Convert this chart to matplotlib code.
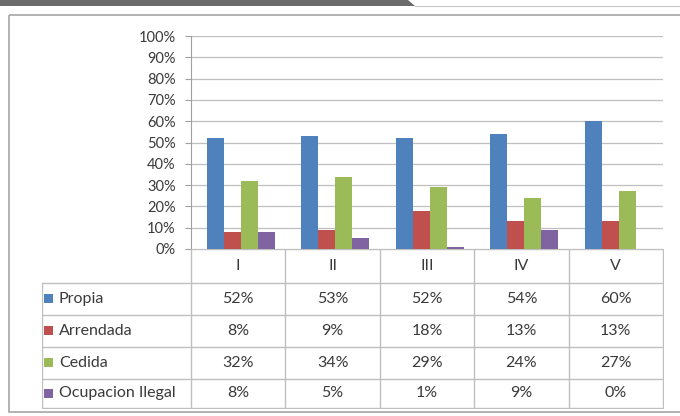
import matplotlib.pyplot as plt
from matplotlib.patches import Rectangle, Polygon
from matplotlib.lines import Line2D

# ---------------------------------------------------------
# data
# ---------------------------------------------------------
categories = ["I", "II", "III", "IV", "V"]
series_names = ["Propia", "Arrendada", "Cedida", "Ocupacion Ilegal"]
propia = [52, 53, 52, 54, 60]
arrendada = [8, 9, 18, 13, 13]
cedida = [32, 34, 29, 24, 27]
ocupacion = [8, 5, 1, 9, 0]
series_values = [propia, arrendada, cedida, ocupacion]
colors = ["#4F81BD", "#C0504D", "#9BBB59", "#8064A2"]
y_ticks = list(range(0, 101, 10))

plt.rcParams["font.family"] = ["Lato", "DejaVu Sans"]
txt_color = "#3a3a3a"

W, H = 680, 416
fig = plt.figure(figsize=(W / 100, H / 100), dpi=100)


def px_axes(x0, y0, x1, y1, **kw):
    # pixel box (top-left origin) -> figure axes
    return fig.add_axes([x0 / W, 1 - y1 / H, (x1 - x0) / W, (y1 - y0) / H], **kw)


# background / frame
bg = px_axes(0, 0, W, H)
bg.set_xlim(0, W)
bg.set_ylim(H, 0)
bg.axis("off")
bg.add_patch(Polygon([[0, 0], [408, 0], [415, 6], [0, 6]], closed=True,
                     facecolor="#6b6b6b", edgecolor="none"))
bg.add_line(Line2D([415, W], [5.5, 5.5], color="#c8c8c8", lw=0.8))
bg.add_patch(Rectangle((8.5, 14.5), W, 397, facecolor="none",
                       edgecolor="#a6a6a6", lw=1.2))

# ---------------------------------------------------------
# bar chart
# ---------------------------------------------------------
left, right, top, bottom = 191, 663, 36, 249
ax = px_axes(left, top, right, bottom)
n = len(series_names)
bw = 0.18
for k, vals in enumerate(series_values):
    xs = [i + (k - (n - 1) / 2) * bw + 0.03 for i in range(len(categories))]
    ax.bar(xs, vals, width=bw, color=colors[k], zorder=3)

ax.set_xlim(-0.5, len(categories) - 0.5)
ax.set_ylim(0, 100)
ax.set_yticks(y_ticks)
ax.set_yticklabels([f"{t}%" for t in y_ticks], fontsize=10.5, color=txt_color)
ax.set_xticks([])
ax.yaxis.grid(True, color="#bfbfbf", lw=0.9, zorder=0)
for s in ["top", "right", "bottom"]:
    ax.spines[s].set_visible(False)
ax.spines["left"].set_color("#a0a0a0")
ax.tick_params(axis="y", length=4, color="#a0a0a0", pad=7)

# ---------------------------------------------------------
# data table
# ---------------------------------------------------------
t_left, t_bottom = 42, 408
row_edges = [249, 283, 315, 347, 379, 408]
col_w = (right - left) / len(categories)
x_left = -0.5 - (left - t_left) / col_w
tab = px_axes(t_left, 249, right + 1, t_bottom + 1)
tab.set_xlim(x_left, len(categories) - 0.5 + 1 / col_w)
tab.set_ylim(t_bottom + 1, 249)
tab.axis("off")

lc = "#bfbfbf"
ncat = len(categories)
# horizontal lines
tab.add_line(Line2D([-0.5, ncat - 0.5], [row_edges[0], row_edges[0]], color=lc, lw=1))
for y in row_edges[1:]:
    tab.add_line(Line2D([x_left, ncat - 0.5], [y, y], color=lc, lw=1))
# vertical lines
for j in range(ncat + 1):
    tab.add_line(Line2D([j - 0.5, j - 0.5], [row_edges[0], row_edges[-1]], color=lc, lw=1))
tab.add_line(Line2D([x_left, x_left], [row_edges[1], row_edges[-1]], color=lc, lw=1))

fs = 11.5
# header
yc = (row_edges[0] + row_edges[1]) / 2
for j, c in enumerate(categories):
    tab.text(j, yc, c, ha="center", va="center", fontsize=fs, color=txt_color)

for r, name in enumerate(series_names):
    yc = (row_edges[r + 1] + row_edges[r + 2]) / 2
    kx = x_left + 2 / col_w
    tab.add_patch(Rectangle((kx, yc - 4.5), 9 / col_w, 9, facecolor=colors[r],
                            edgecolor="none"))
    tab.text(kx + 15 / col_w, yc, name, ha="left", va="center", fontsize=fs,
             color=txt_color)
    for j, v in enumerate(series_values[r]):
        tab.text(j, yc, f"{v}%", ha="center", va="center", fontsize=fs,
                 color=txt_color)

fig.savefig("out.png", dpi=100)
